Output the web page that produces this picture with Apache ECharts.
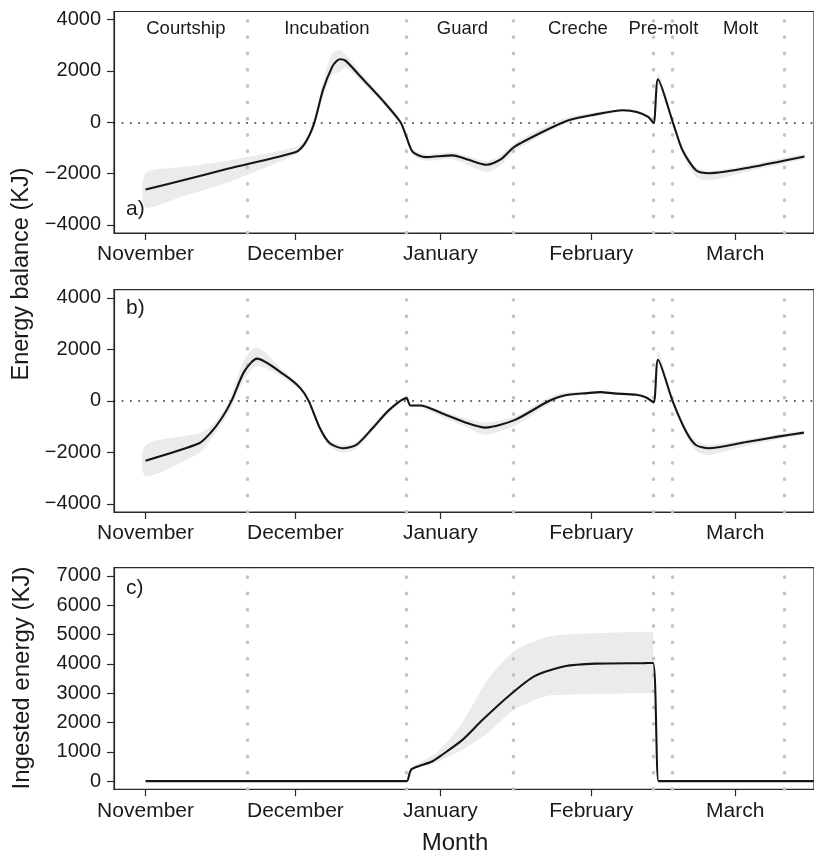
<!DOCTYPE html>
<html>
<head>
<meta charset="utf-8">
<script src="https://cdn.jsdelivr.net/npm/echarts@6/dist/echarts.min.js"></script>
<style>
html,body{margin:0;padding:0;background:#fff;}
#chart{width:814px;height:853px;}
</style>
</head>
<body>
<div id="chart"></div>
<script>
// ---- tick labels / categories ----
const monthNames = ['November', 'December', 'January', 'February', 'March'];
const monthTicks = [0, 30.5, 60, 90.7, 120];           // day offsets from 1 Nov
const phaseNames = ['Courtship', 'Incubation', 'Guard', 'Creche', 'Pre-molt', 'Molt'];
const phaseLabelDays = [8.2, 36.9, 64.5, 88.0, 105.4, 121.1];
const phaseBounds = [20.7, 53.1, 74.9, 103.4, 107.3, 130.0];
const balanceTicks = [-4000, -2000, 0, 2000, 4000];
const ingestTicks = [0, 1000, 2000, 3000, 4000, 5000, 6000, 7000];

// ---- panel a: energy balance [day, KJ] ----
const lineA = [
  [0, -2626], [7.4, -2274], [16.7, -1815], [30.6, -1164], [32.4, -835], [34.3, -51],
  [36.1, 1254], [38.0, 2168], [38.9, 2391], [39.6, 2458], [40.7, 2403], [44.4, 1646],
  [48.2, 862], [51.9, 0], [53.1, -576], [54.4, -1164], [57.0, -1360], [62.5, -1294],
  [65.7, -1462], [69.4, -1658], [72.2, -1462], [75.0, -968], [81.5, -314], [86.1, 78],
  [90.7, 274], [97.2, 470], [100.0, 404], [102.3, 208], [103.4, -27], [104.3, 1674],
  [107.4, -51], [109.3, -1098], [112.1, -1882], [114.8, -1987], [123.2, -1752], [134.1, -1333]
];
// [day, lower, upper]
const ribbonA = [
  [0, -3320, -1990], [7.4, -2900, -1750], [16.7, -2350, -1500], [30.6, -1254, -968],
  [32.4, -950, -700], [34.3, -200, 150], [36.1, 1000, 1550], [38.0, 1850, 2700],
  [39.6, 1972, 2822], [40.7, 2150, 2650], [44.4, 1500, 1800], [48.2, 750, 980],
  [51.9, -100, 100], [53.1, -680, -470], [54.4, -1280, -1050], [57.0, -1500, -1250],
  [62.5, -1440, -1170], [65.7, -1680, -1330], [69.4, -1950, -1520], [72.2, -1700, -1300],
  [75.0, -1150, -820], [81.5, -420, -150], [86.1, -20, 200], [90.7, 200, 360],
  [97.2, 420, 530], [100.0, 350, 460], [102.3, 150, 260], [103.4, -80, 30],
  [104.3, 1500, 1900], [107.4, -150, 50], [109.3, -1250, -950], [112.1, -2150, -1750],
  [114.8, -2270, -1900], [123.2, -1880, -1650], [134.1, -1420, -1250]
];

// ---- panel b: energy balance [day, KJ] ----
const lineB = [
  [0, -2325], [10.9, -1650], [13.2, -1250], [15.5, -675], [17.5, 0], [20.1, 1145],
  [22.7, 1640], [28.2, 1015], [31.5, 495], [33.2, 0], [35.5, -1065], [37.5, -1650],
  [40.2, -1845], [42.9, -1715], [46.2, -1065], [49.6, -350], [53.1, 105], [53.9, -180],
  [55.9, -180], [60.3, -480], [65.6, -870], [69.2, -1040], [75.2, -740], [81.9, -25],
  [85.2, 210], [89.9, 300], [92.6, 340], [95.3, 290], [99.9, 235], [101.9, 130],
  [103.4, -60], [104.3, 1600], [107.3, -25], [110.0, -1195], [112.0, -1715],
  [114.6, -1845], [122.0, -1610], [128.7, -1390], [134.0, -1235]
];
const ribbonB = [
  [0, -2925, -1715], [10.9, -2040, -1260], [13.2, -1500, -1000], [15.5, -900, -480],
  [17.5, -250, 250], [20.1, 850, 1600], [22.7, 1350, 2080], [28.2, 880, 1150],
  [31.5, 380, 600], [33.2, -100, 100], [35.5, -1200, -950], [37.5, -1780, -1550],
  [40.2, -2020, -1720], [42.9, -1850, -1600], [46.2, -1180, -950], [49.6, -420, -280],
  [53.1, 60, 140], [53.9, -230, -130], [55.9, -250, -110], [60.3, -620, -380],
  [65.6, -1050, -700], [69.2, -1325, -840], [75.2, -960, -600], [81.9, -150, 120],
  [85.2, 140, 320], [89.9, 250, 350], [92.6, 300, 380], [95.3, 250, 330], [99.9, 200, 270],
  [101.9, 90, 170], [103.4, -90, -30], [104.3, 1450, 1925], [107.3, -80, 40],
  [110.0, -1330, -1050], [112.0, -1950, -1550], [114.6, -2100, -1700],
  [122.0, -1760, -1520], [128.7, -1500, -1300], [134.0, -1320, -1170]
];

// ---- panel c: ingested energy [day, KJ] ----
const lineC = [
  [0, 0], [52.0, 0], [53.2, 0], [54.1, 400], [58.2, 661], [60.3, 890], [64.5, 1405], [68.6, 2090],
  [73.8, 2888], [79.1, 3573], [85.3, 3916], [91.6, 4008], [101.5, 4025], [103.3, 4030],
  [104.4, 0], [105.5, 0], [136, 0]
];
const ribbonC = [
  [53.2, 0, 0], [54.1, 370, 430], [58.2, 580, 860], [59.2, 640, 950], [64.4, 1062, 1977],
  [69.6, 1634, 3460], [75.0, 2432, 4430], [81.2, 2888, 4888], [85.3, 2946, 5000],
  [94.7, 2980, 5060], [103.0, 3004, 5094], [103.3, 3004, 5094]
];

const FONT = '"Liberation Sans", Arial, sans-serif';
const TXT = '#1a1a1a';
const AX = '#2a2a2a';

const chart = echarts.init(document.getElementById('chart'), null, {renderer: 'canvas'});

const grids = [
  {left: 114, right: -10, top: 11.5, height: 221.5},
  {left: 114, right: -10, top: 289.7, height: 222.3},
  {left: 114, right: -10, top: 567.7, height: 221.6}
].map(g => Object.assign(g, {show: true, borderColor: AX, borderWidth: 1.2, backgroundColor: 'transparent'}));

function xAx(i) {
  return {
    type: 'value', gridIndex: i, min: -6.42, max: 136.05,
    splitLine: {show: false},
    axisLine: {show: true, onZero: false, lineStyle: {color: AX, width: 1.2}},
    axisTick: {show: true, customValues: monthTicks, length: 7, lineStyle: {color: AX, width: 1.2}},
    axisLabel: {
      show: true, customValues: monthTicks, margin: 11,
      fontFamily: FONT, fontSize: 21, color: TXT,
      formatter: v => { const k = monthTicks.findIndex(t => Math.abs(t - v) < 1e-6); return k >= 0 ? monthNames[k] : ''; }
    }
  };
}
function yAx(i, min, max, ticks) {
  return {
    type: 'value', gridIndex: i, min: min, max: max,
    splitLine: {show: false},
    axisLine: {show: true, onZero: false, lineStyle: {color: AX, width: 1.2}},
    axisTick: {show: true, customValues: ticks, length: 7, lineStyle: {color: AX, width: 1.2}},
    axisLabel: {
      show: true, customValues: ticks, margin: 13,
      fontFamily: FONT, fontSize: 20, color: TXT,
      formatter: v => String(Math.round(v)).replace('-', '\u2212')
    }
  };
}

function ribbon(rows, i) {
  return {
    type: 'custom', xAxisIndex: i, yAxisIndex: i, z: 2, silent: true,
    data: [[0, 0]],
    renderItem: (params, api) => {
      const top = rows.map(r => api.coord([r[0], r[2]]));
      const bot = rows.slice().reverse().map(r => api.coord([r[0], r[1]]));
      return {type: 'polygon', shape: {points: top.concat(bot), smooth: 0.25}, style: {fill: '#ebebec'}};
    }
  };
}
function phaseLines(data, i) {
  return {
    type: 'line', xAxisIndex: i, yAxisIndex: i, z: 1, silent: true,
    data: data, showSymbol: false, lineStyle: {opacity: 0},
    markLine: {
      silent: true, symbol: ['none', 'none'], animation: false, label: {show: false},
      lineStyle: {color: '#c4c4c4', width: 3.4, type: [0.5, 15.8], cap: 'round'},
      data: phaseBounds.map(d => ({xAxis: d}))
    }
  };
}
function mainLine(data, i, zero) {
  const s = {
    type: 'line', xAxisIndex: i, yAxisIndex: i, z: 5, data: data,
    showSymbol: false, smooth: 0.25,
    lineStyle: {color: '#151515', width: 2.1}
  };
  if (zero) {
    s.markLine = {
      silent: true, symbol: ['none', 'none'], animation: false, label: {show: false},
      lineStyle: {color: '#222', width: 1.6, type: [0.5, 7.8], cap: 'round'},
      data: [{yAxis: 0}]
    };
  }
  return s;
}

const option = {
  animation: false,
  backgroundColor: '#fff',
  grid: grids,
  xAxis: [xAx(0), xAx(1), xAx(2)],
  yAxis: [yAx(0, -4320, 4320, balanceTicks), yAx(1, -4320, 4320, balanceTicks), yAx(2, -280, 7280, ingestTicks)],
  series: [
    phaseLines(lineA, 0), ribbon(ribbonA, 0), mainLine(lineA, 0, true),
    phaseLines(lineB, 1), ribbon(ribbonB, 1), mainLine(lineB, 1, true),
    phaseLines(lineC, 2), ribbon(ribbonC, 2), mainLine(lineC, 2, false),
    {
      type: 'scatter', xAxisIndex: 0, yAxisIndex: 0, z: 6, symbolSize: 0, silent: true,
      itemStyle: {opacity: 1},
      data: phaseNames.map((n, k) => [phaseLabelDays[k], 3650, n]),
      label: {show: true, position: 'inside', formatter: p => p.data[2],
        fontFamily: FONT, fontSize: 18.5, color: TXT}
    }
  ],
  graphic: [
    {type: 'text', left: 126, top: 199, style: {text: 'a)', font: '21px ' + FONT, fill: TXT}},
    {type: 'text', left: 126, top: 298, style: {text: 'b)', font: '21px ' + FONT, fill: TXT}},
    {type: 'text', left: 126, top: 578, style: {text: 'c)', font: '21px ' + FONT, fill: TXT}},
    {type: 'text', x: 22, y: 274, rotation: Math.PI / 2,
      style: {text: 'Energy balance (KJ)', font: '23.5px ' + FONT, fill: TXT, textAlign: 'center', textVerticalAlign: 'middle'}},
    {type: 'text', x: 22, y: 678, rotation: Math.PI / 2,
      style: {text: 'Ingested energy (KJ)', font: '24px ' + FONT, fill: TXT, textAlign: 'center', textVerticalAlign: 'middle'}},
    {type: 'text', x: 455, y: 843,
      style: {text: 'Month', font: '24px ' + FONT, fill: TXT, textAlign: 'center', textVerticalAlign: 'middle'}}
  ]
};
chart.setOption(option);
</script>
</body>
</html>
